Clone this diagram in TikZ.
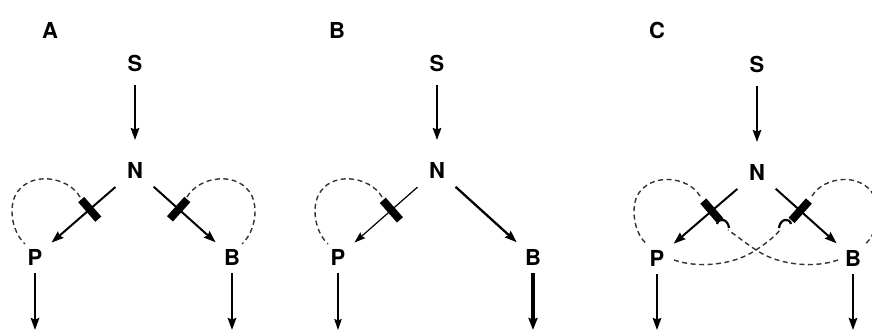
\documentclass[tikz,border=0pt]{standalone}
\usepackage{fontspec}
\setmainfont{TeX Gyre Heros}
\usetikzlibrary{calc,arrows.meta}
\begin{document}
\begin{tikzpicture}[x=1pt,y=-1pt,
  lbl/.style={font=\fontsize{22}{26}\selectfont\bfseries, inner sep=0pt},
  arr/.style={-{Stealth[length=12pt,width=8.5pt,inset=1.5pt]}, line width=2pt},
  thinarr/.style={-{Stealth[length=11pt,width=7.5pt,inset=1.5pt]}, line width=1.2pt},
  thickarr/.style={-{Stealth[length=12pt,width=9pt,inset=1.5pt]}, line width=3.2pt},
  barnode/.style={rectangle, fill=black, minimum width=8pt, minimum height=26pt, inner sep=0pt, sloped},
  dsh/.style={dash pattern=on 5pt off 3.5pt, line width=1.4pt, black!80},
  hook/.style={line width=2.2pt},
]
\useasboundingbox (0,0) rectangle (872,331);
% ---------- Panel A ----------
\node[lbl] (la) at (50,30) {A};
\node[lbl] (SA) at (135,63) {S};
\node[lbl] (NA) at (135,170) {N};
\node[lbl] (PA) at (35,257) {P};
\node[lbl] (BA) at (232,257) {B};
\coordinate (pa) at (35,330);
\coordinate (ba) at (232,330);
\draw[arr] ($(SA)!22pt!(NA)$) -- ($(NA)!30pt!(SA)$);
\draw[arr] ($(NA)!26pt!(PA)$) -- ($(PA)!22pt!(NA)$);
\draw[arr] ($(NA)!25pt!(BA)$) -- ($(BA)!22pt!(NA)$);
\draw[arr] ($(PA)+(0,16)$) -- (pa);
\draw[arr] ($(BA)+(0,16)$) -- (ba);
\path (NA) -- (PA) node[barnode,pos=0.44]{};
\path (NA) -- (BA) node[barnode,pos=0.44]{};
\draw[dsh] (80,197) .. controls (68,176) and (28,170) .. (15,196) .. controls (8,212) and (14,234) .. (25,244);
\draw[dsh] (187,197) .. controls (199,176) and (239,170) .. (252,196) .. controls (259,212) and (253,234) .. (242,244);
% ---------- Panel B ----------
\begin{scope}[xshift=302pt]
\node[lbl] (lb) at (35,30) {B};
\node[lbl] (SB) at (135,63) {S};
\node[lbl] (NB) at (135,170) {N};
\node[lbl] (PB) at (36,257) {P};
\node[lbl] (BB) at (231,257) {B};
\coordinate (pb) at (36,330);
\coordinate (bb) at (231,330);
\draw[arr] ($(SB)!22pt!(NB)$) -- ($(NB)!30pt!(SB)$);
\draw[thinarr] ($(NB)!26pt!(PB)$) -- ($(PB)!22pt!(NB)$);
\draw[arr, line width=2.3pt] ($(NB)!25pt!(BB)$) -- ($(BB)!22pt!(NB)$);
\draw[thinarr] ($(PB)+(0,16)$) -- (pb);
\draw[thickarr] ($(BB)+(0,16)$) -- (bb);
\path (NB) -- (PB) node[barnode,pos=0.45]{};
\draw[dsh] (80,197) .. controls (68,176) and (28,170) .. (16,196) .. controls (9,212) and (15,234) .. (26,244);
\end{scope}
% ---------- Panel C ----------
\begin{scope}[xshift=622pt]
\node[lbl] (lc) at (35,30) {C};
\node[lbl] (SC) at (135,64) {S};
\node[lbl] (NC) at (135,172) {N};
\node[lbl] (PC) at (35,258) {P};
\node[lbl] (BC) at (231,258) {B};
\coordinate (pc) at (35,330);
\coordinate (bc) at (231,330);
\draw[arr] ($(SC)!22pt!(NC)$) -- ($(NC)!30pt!(SC)$);
\draw[arr] ($(NC)!26pt!(PC)$) -- ($(PC)!22pt!(NC)$);
\draw[arr] ($(NC)!25pt!(BC)$) -- ($(BC)!22pt!(NC)$);
\draw[arr] ($(PC)+(0,16)$) -- (pc);
\draw[arr] ($(BC)+(0,16)$) -- (bc);
\path (NC) -- (PC) node[barnode,pos=0.44]{};
\path (NC) -- (BC) node[barnode,pos=0.44]{};
% left loop and crossing branch
\draw[dsh] (78,196) .. controls (66,176) and (28,172) .. (15,196) .. controls (8,212) and (14,236) .. (25,244);
\draw[dsh] (52,260) .. controls (75,268) and (110,266) .. (134,250) .. controls (146,242) and (153,236) .. (158,230);
% right loop and crossing branch
\draw[dsh] (190,196) .. controls (202,176) and (240,172) .. (252,196) .. controls (259,212) and (254,236) .. (243,244);
\draw[dsh] (216,260) .. controls (193,268) and (158,266) .. (134,250) .. controls (122,242) and (115,236) .. (106,230);
% hooks
\draw[hook] (157,228) .. controls (158,219) and (167,217) .. (169,224);
\draw[hook] (107,228) .. controls (106,219) and (97,217) .. (95,224);
\end{scope}
\end{tikzpicture}
\end{document}
